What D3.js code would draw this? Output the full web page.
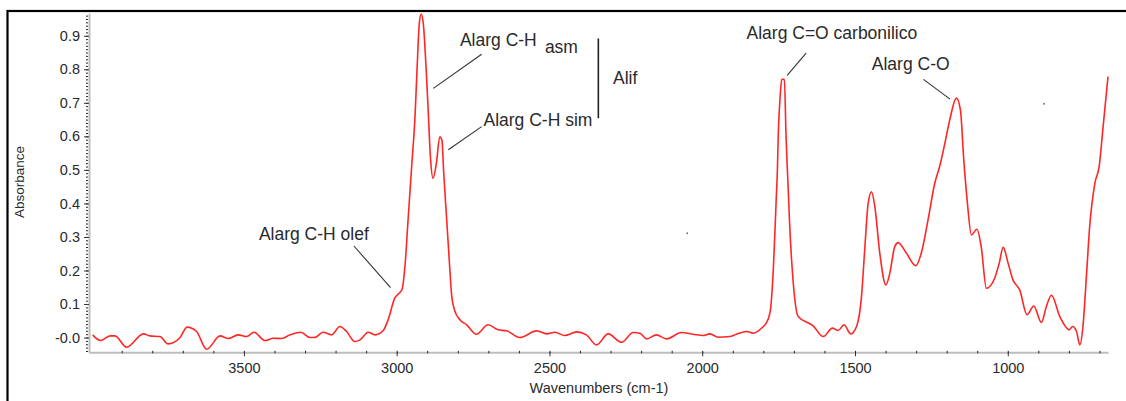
<!DOCTYPE html>
<html>
<head>
<meta charset="utf-8">
<script src="https://cdn.jsdelivr.net/npm/d3@7"></script>
<style>
  body { margin: 0; background: #fff; }
  svg { display: block; font-family: "Liberation Sans", Arial, sans-serif; }
</style>
</head>
<body>
<div id="chart"></div>
<script>
// spectrum (wavenumber cm-1, absorbance)
var wavenumbers = [3995, 3969, 3938, 3922, 3884, 3829, 3808, 3775, 3748, 3709,
  3686, 3655, 3622, 3578, 3551, 3519, 3491, 3467, 3431, 3404,
  3377, 3349, 3314, 3284, 3268, 3241, 3213, 3186, 3164, 3137,
  3120, 3093, 3071, 3044, 3028, 3006, 2990, 2982, 2973, 2962,
  2951, 2940, 2933, 2926, 2920, 2913, 2904, 2897, 2889, 2881,
  2870, 2859, 2852, 2846, 2837, 2828, 2820, 2810, 2793, 2771,
  2739, 2701, 2668, 2640, 2597, 2542, 2509, 2482, 2450, 2411,
  2379, 2346, 2308, 2264, 2226, 2204, 2182, 2150, 2117, 2068,
  2030, 1997, 1975, 1948, 1910, 1888, 1855, 1833, 1800, 1792,
  1778, 1767, 1758, 1754, 1751, 1745, 1740, 1731, 1726, 1718,
  1715, 1702, 1686, 1637, 1604, 1574, 1555, 1536, 1514, 1495,
  1479, 1468, 1457, 1446, 1435, 1419, 1399, 1386, 1370, 1359,
  1332, 1301, 1283, 1261, 1239, 1223, 1206, 1190, 1168, 1155,
  1144, 1133, 1119, 1101, 1087, 1070, 1043, 1028, 1015, 999,
  983, 961, 937, 915, 890, 874, 857, 830, 799, 788,
  775, 764, 754, 742, 732, 715, 701, 688, 672];
var absorbance = [0.008, -0.009, 0.005, 0.005, -0.029, 0.011, 0.005, 0.003, -0.019, 0.000,
  0.031, 0.018, -0.035, 0.005, -0.003, 0.008, 0.003, 0.016, -0.009, -0.002,
  -0.003, 0.008, 0.016, 0.000, 0.000, 0.016, 0.008, 0.033, 0.018, -0.012,
  -0.007, 0.016, 0.008, 0.021, 0.053, 0.118, 0.134, 0.145, 0.212, 0.361,
  0.510, 0.659, 0.808, 0.937, 0.965, 0.937, 0.808, 0.679, 0.530, 0.475,
  0.520, 0.599, 0.589, 0.490, 0.361, 0.232, 0.125, 0.080, 0.053, 0.038,
  0.010, 0.038, 0.023, 0.020, 0.000, 0.020, 0.011, 0.016, 0.006, 0.017,
  0.008, -0.022, 0.011, -0.014, 0.015, 0.013, -0.004, 0.008, -0.004, 0.015,
  0.010, 0.006, 0.011, 0.001, 0.003, 0.010, 0.018, 0.013, 0.033, 0.041,
  0.075, 0.210, 0.410, 0.500, 0.610, 0.718, 0.770, 0.770, 0.610, 0.430,
  0.360, 0.162, 0.063, 0.035, 0.003, 0.028, 0.021, 0.038, 0.011, 0.033,
  0.120, 0.265, 0.400, 0.435, 0.390, 0.252, 0.157, 0.192, 0.271, 0.283,
  0.252, 0.214, 0.252, 0.351, 0.460, 0.510, 0.579, 0.649, 0.714, 0.679,
  0.530, 0.410, 0.306, 0.323, 0.271, 0.147, 0.177, 0.222, 0.269, 0.222,
  0.172, 0.142, 0.068, 0.094, 0.045, 0.092, 0.126, 0.063, 0.023, 0.033,
  0.018, -0.022, 0.033, 0.192, 0.331, 0.460, 0.510, 0.629, 0.778];

var xTicks = [3500, 3000, 2500, 2000, 1500, 1000];
var xMinorTicks = d3.range(3900, 699, -100);
var yTicks = [0, 0.1, 0.2, 0.3, 0.4, 0.5, 0.6, 0.7, 0.8, 0.9];
var yMinorTicks = d3.range(-4, 97).map(function(i) { return i / 100; });

// peak labels, anchored in data units
var labelText = ["Alarg C-H olef", "Alarg C-H", "Alif", "Alarg C-H sim", "Alarg C=O carbonilico", "Alarg C-O"];
var labelWave = [3451, 2793, 2292, 2716, 1855, 1445];
var labelAbs = [0.291, 0.870, 0.756, 0.631, 0.890, 0.798];
// leader lines [w1, a1, w2, a2]
var leaders = [
  [3140, 0.273, 3020, 0.149],
  [2722, 0.845, 2880, 0.743],
  [2722, 0.629, 2831, 0.560],
  [1660, 0.848, 1722, 0.782],
  [1276, 0.770, 1189, 0.711]
];

var width = 1126, height = 401;

var svg = d3.select("#chart").append("svg")
    .attr("width", width)
    .attr("height", height);

var x = d3.scaleLinear().domain([4007, 672]).range([89, 1108]);
var y = d3.scaleLinear().domain([-0.044, 0.967]).range([352.3, 13.3]);

// outer frame (only left and top edges show)
svg.append("rect")
    .attr("x", 7.5).attr("y", 11)
    .attr("width", 1200).attr("height", 500)
    .attr("fill", "none")
    .attr("stroke", "#000")
    .attr("stroke-width", 2.2);

// y axis minor ticks
var yMinor = svg.append("g")
    .attr("transform", "translate(89,0)")
    .call(d3.axisLeft(y).tickValues(yMinorTicks).tickSize(2).tickSizeOuter(0).tickFormat(""));
yMinor.select(".domain").remove();
yMinor.selectAll(".tick line").attr("stroke", "#222").attr("transform", "translate(-1,0)");

var yAxis = svg.append("g")
    .attr("transform", "translate(89,0)")
    .call(d3.axisLeft(y).tickValues(yTicks).tickSize(5).tickSizeOuter(0).tickPadding(4)
      .tickFormat(function(d) { return d === 0 ? "-0.0" : d3.format(".1f")(d); }));
yAxis.select(".domain").attr("stroke", "#bdbdbd").attr("stroke-width", 2);
yAxis.selectAll(".tick line").attr("stroke", "#333");
yAxis.selectAll("text").attr("font-size", "14.5px").attr("fill", "#2a2a2a")
    .attr("font-family", "Liberation Sans, Arial, sans-serif");

// x axis
var xAxis = svg.append("g")
    .attr("transform", "translate(0,352.3)")
    .call(d3.axisBottom(x).tickValues(xTicks).tickSize(4).tickSizeOuter(0).tickPadding(6)
      .tickFormat(d3.format("d")));
xAxis.select(".domain").attr("stroke", "#bdbdbd").attr("stroke-width", 2);
xAxis.selectAll(".tick line").attr("stroke", "#333");
xAxis.selectAll("text").attr("font-size", "14.5px").attr("fill", "#2a2a2a")
    .attr("font-family", "Liberation Sans, Arial, sans-serif");

var xMinor = svg.append("g")
    .attr("transform", "translate(0,350.8)")
    .call(d3.axisBottom(x).tickValues(xMinorTicks).tickSize(2.5).tickSizeOuter(0).tickFormat(""));
xMinor.select(".domain").remove();
xMinor.selectAll(".tick line").attr("stroke", "#222");

// axis titles
svg.append("text")
    .attr("transform", "translate(23.5,182) rotate(-90)")
    .attr("text-anchor", "middle")
    .attr("font-size", "13.5px")
    .attr("fill", "#2a2a2a")
    .text("Absorbance");

svg.append("text")
    .attr("x", 599).attr("y", 393)
    .attr("text-anchor", "middle")
    .attr("font-size", "14.5px")
    .attr("fill", "#2a2a2a")
    .text("Wavenumbers (cm-1)");

// spectrum
var points = wavenumbers.map(function(w, i) { return [w, absorbance[i]]; });
var line = d3.line()
    .x(function(d) { return x(d[0]); })
    .y(function(d) { return y(d[1]); })
    .curve(d3.curveMonotoneX);

svg.append("path")
    .datum(points)
    .attr("d", line)
    .attr("fill", "none")
    .attr("stroke", "#ff2626")
    .attr("stroke-width", 1.6)
    .attr("stroke-linejoin", "round");

// annotations
var ann = svg.append("g").attr("fill", "#2a2a2a").attr("font-size", "17.5px");
labelText.forEach(function(t, i) {
  ann.append("text")
      .attr("x", x(labelWave[i]))
      .attr("y", y(labelAbs[i]))
      .text(t);
});
ann.append("text")
    .attr("x", x(2515)).attr("y", y(0.850))
    .text("asm");

leaders.forEach(function(l) {
  svg.append("line")
      .attr("x1", x(l[0])).attr("y1", y(l[1]))
      .attr("x2", x(l[2])).attr("y2", y(l[3]))
      .attr("stroke", "#333")
      .attr("stroke-width", 1.1);
});

// bracket for the aliphatic pair
svg.append("line")
    .attr("x1", x(2340)).attr("y1", y(0.892))
    .attr("x2", x(2340)).attr("y2", y(0.654))
    .attr("stroke", "#222")
    .attr("stroke-width", 1.6);

// stray specks in the original scan
[[2049, 0.311], [881, 0.697]].forEach(function(p) {
  svg.append("rect")
      .attr("x", x(p[0]) - 0.75).attr("y", y(p[1]) - 0.75)
      .attr("width", 1.5).attr("height", 1.5)
      .attr("fill", "#555");
});
</script>
</body>
</html>
